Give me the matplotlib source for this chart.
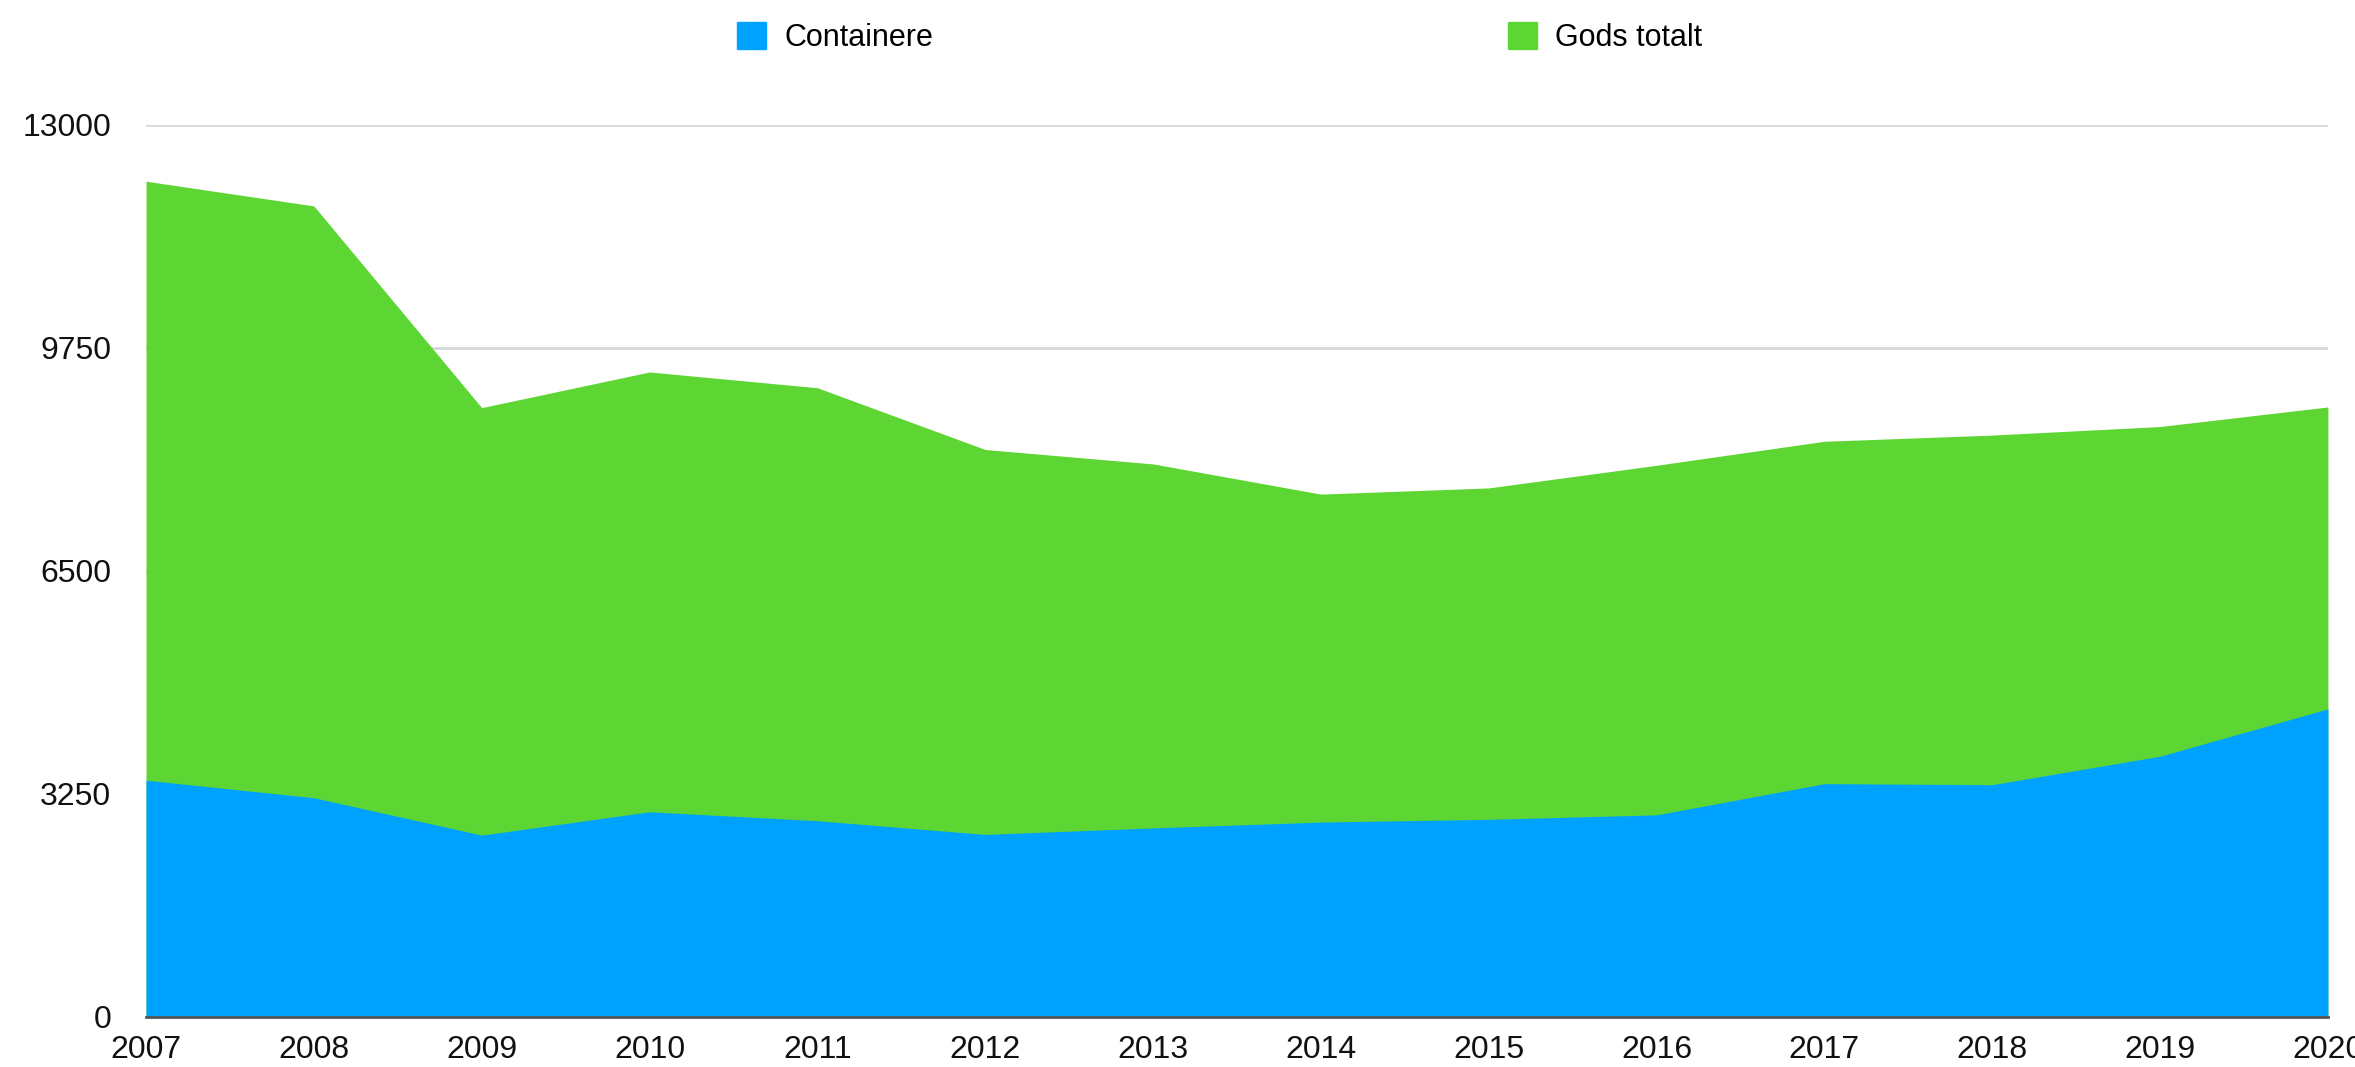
import numpy as np
import matplotlib.pyplot as plt
from matplotlib.patches import Patch

# data
years = [2007, 2008, 2009, 2010, 2011, 2012, 2013, 2014, 2015, 2016, 2017, 2018, 2019, 2020]
gods_totalt = [12180, 11820, 8880, 9400, 9170, 8270, 8060, 7620, 7710, 8040, 8390, 8480, 8605, 8890]
containere = [3450, 3195, 2650, 2990, 2860, 2660, 2755, 2840, 2880, 2945, 3400, 3385, 3800, 4490]
y_ticks = [0, 3250, 6500, 9750, 13000]

blue = '#00A2FF'
green = '#5DD634'

plt.rcParams['font.family'] = ['Liberation Sans', 'DejaVu Sans']

fig = plt.figure(figsize=(23.55, 10.67), dpi=100)
ax = fig.add_axes([0.062, 0.0469, 0.9265, 0.836])

ax.fill_between(years, 0, gods_totalt, color=green, linewidth=0, zorder=2)
ax.fill_between(years, 0, containere, color=blue, linewidth=0, zorder=3)

ax.set_xlim(years[0], years[-1])
ax.set_ylim(0, 13000)
ax.set_xticks(years)
ax.set_yticks(y_ticks)
ax.set_yticklabels([str(t) for t in y_ticks])

ax.grid(axis='y', color='#d8d8d8', linewidth=2, zorder=1)
ax.set_axisbelow(True)
for s in ['top', 'right', 'left']:
    ax.spines[s].set_visible(False)
ax.spines['bottom'].set_color('#555555')
ax.spines['bottom'].set_linewidth(2)
ax.spines['bottom'].set_zorder(5)

ax.tick_params(axis='both', length=0, labelsize=23, colors='#111111')
ax.tick_params(axis='y', pad=25)
ax.tick_params(axis='x', pad=13)

handles = [Patch(color=blue, label='Containere'), Patch(color=green, label='Gods totalt')]
fig.legend(handles=handles, loc='upper center', bbox_to_anchor=(0.518, 1.005), ncol=2,
           frameon=False, fontsize=22, handlelength=0.95, handleheight=0.95,
           handletextpad=0.6, columnspacing=18.8)

fig.savefig('out.png', dpi=100)
